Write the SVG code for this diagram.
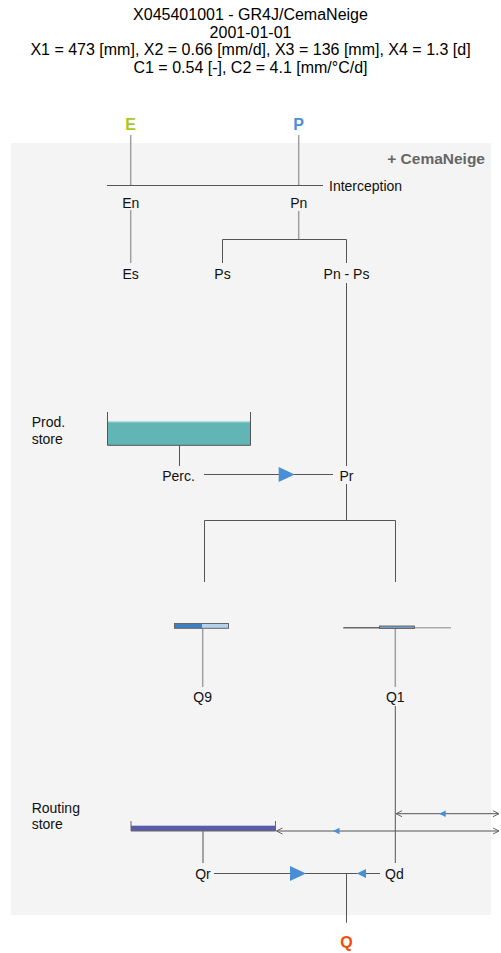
<svg xmlns="http://www.w3.org/2000/svg" width="501" height="953" viewBox="0 0 501 953">
<defs>
<style>
.t{font-family:"Liberation Sans",Arial,sans-serif;font-size:16px;fill:#000;text-anchor:middle}
.l{font-family:"Liberation Sans",Arial,sans-serif;font-size:14px;fill:#111}
.c{text-anchor:middle}
.b{font-family:"Liberation Sans",Arial,sans-serif;font-weight:bold;text-anchor:middle}
.g{stroke:#a0a0a0;stroke-width:1.5;fill:none}
.d{stroke:#555;stroke-width:1;fill:none}
.tri{fill:#4a8fd4}
</style>
<marker id="open" markerWidth="8" markerHeight="8" refX="7" refY="4" orient="auto-start-reverse" markerUnits="userSpaceOnUse">
<path d="M1,1 L7,4 L1,7" fill="none" stroke="#666" stroke-width="1"/>
</marker>
</defs>
<rect width="501" height="953" fill="#fff"/>
<g id="title">
<text class="t" x="250.5" y="20">X045401001 - GR4J/CemaNeige</text>
<text class="t" x="250.5" y="37.5">2001-01-01</text>
<text class="t" x="250.5" y="55">X1 = 473 [mm], X2 = 0.66 [mm/d], X3 = 136 [mm], X4 = 1.3 [d]</text>
<text class="t" x="250.5" y="72.5">C1 = 0.54 [-], C2 = 4.1 [mm/°C/d]</text>
</g>
<g id="panel">
<rect x="11" y="143" width="480" height="772" fill="#f4f4f4"/>
<text x="485" y="163.5" font-family="'Liberation Sans',Arial,sans-serif" font-size="15.5" font-weight="bold" fill="#666" text-anchor="end">+ CemaNeige</text>
</g>
<g id="connectors">
<line class="g" x1="130.7" y1="135" x2="130.7" y2="185"/>
<line class="g" x1="298.7" y1="135" x2="298.7" y2="185"/>
<line class="d" x1="107" y1="185.5" x2="323" y2="185.5"/>
<line class="g" x1="130.7" y1="210" x2="130.7" y2="263"/>
<line class="g" x1="298.7" y1="211" x2="298.7" y2="239"/>
<path class="d" d="M222.5,263 V239.5 H346.5 V263"/>
<line class="d" x1="346.5" y1="283" x2="346.5" y2="466"/>
<line class="d" x1="179.5" y1="445" x2="179.5" y2="466"/>
<line class="d" x1="204" y1="474.5" x2="333" y2="474.5"/>
<polygon class="tri" points="278.7,467 294.7,474.5 278.7,482"/>
<line class="d" x1="346.5" y1="484" x2="346.5" y2="520.5"/>
<path class="d" d="M204.5,582 V520.5 H395.5 V582"/>
<line class="g" x1="202.7" y1="628" x2="202.7" y2="687"/>
<line class="g" x1="395.3" y1="628" x2="395.3" y2="687"/>
<line class="d" x1="395.3" y1="706" x2="395.3" y2="863"/>
<line class="d" x1="396" y1="813.7" x2="499" y2="813.7" marker-start="url(#open)" marker-end="url(#open)"/>
<polygon class="tri" points="439,813.7 445.7,810.5 445.7,817"/>
<line class="d" x1="276.5" y1="831" x2="499" y2="831" marker-start="url(#open)" marker-end="url(#open)"/>
<polygon class="tri" points="333,831 339.5,827.7 339.5,834.3"/>
<line class="d" x1="203" y1="831" x2="203" y2="863"/>
<line class="d" x1="214" y1="873.5" x2="380" y2="873.5"/>
<polygon class="tri" points="290,866 306,873.5 290,881"/>
<polygon class="tri" points="356.7,873.5 366,869 366,878"/>
<line class="d" x1="346.5" y1="873.5" x2="346.5" y2="922.7"/>
</g>
<g id="E"><text class="b" x="130.7" y="129.5" font-size="16" fill="#a8c81e">E</text></g>
<g id="P"><text class="b" x="298.7" y="129.5" font-size="16" fill="#4a8fd4">P</text></g>
<g id="interception"><text class="l" x="329" y="190.5">Interception</text></g>
<g id="En"><text class="l c" x="130.7" y="208">En</text></g>
<g id="Pn"><text class="l c" x="298.7" y="208">Pn</text></g>
<g id="Es"><text class="l c" x="130.7" y="278.5">Es</text></g>
<g id="Ps"><text class="l c" x="222.5" y="278.5">Ps</text></g>
<g id="PnPs"><text class="l c" x="346.5" y="278.5">Pn - Ps</text></g>
<g id="prodstore">
<text class="l" x="31.7" y="427">Prod.</text>
<text class="l" x="31.7" y="443.5">store</text>
<rect x="107.5" y="421.7" width="143" height="23.6" fill="#62b5b5"/>
<line x1="107.5" y1="422.2" x2="250.5" y2="422.2" stroke="#8ccccc" stroke-width="1"/>
<path d="M107.5,412 V445.3 H250.5 V412" fill="none" stroke="#555" stroke-width="1"/>
</g>
<g id="Perc"><text class="l c" x="178.5" y="481">Perc.</text></g>
<g id="Pr"><text class="l c" x="346.5" y="481">Pr</text></g>
<g id="Q9store">
<rect x="174.5" y="623.5" width="27.5" height="4.8" fill="#3d7fc4"/>
<rect x="202" y="623.5" width="26.5" height="4.8" fill="#b4d2ee"/>
<rect x="174.5" y="623.5" width="54" height="4.8" fill="none" stroke="#666" stroke-width="1"/>
</g>
<g id="Q1store">
<line x1="343.3" y1="627.8" x2="380" y2="627.8" stroke="#666" stroke-width="1.5"/>
<line x1="414" y1="627.8" x2="451" y2="627.8" stroke="#888" stroke-width="1"/>
<rect x="379.5" y="626" width="35" height="2.6" fill="#7a9cc0" stroke="#555" stroke-width="0.8"/>
</g>
<g id="Q9"><text class="l c" x="202.7" y="702">Q9</text></g>
<g id="Q1"><text class="l c" x="395.3" y="702">Q1</text></g>
<g id="routingstore">
<text class="l" x="31.7" y="812.5">Routing</text>
<text class="l" x="31.7" y="829">store</text>
<rect x="131" y="825.7" width="144.5" height="5.3" fill="#5a5aaa"/>
<path d="M131,821 V831 H275.5 V821" fill="none" stroke="#666" stroke-width="1"/>
</g>
<g id="Qr"><text class="l c" x="203" y="878.5">Qr</text></g>
<g id="Qd"><text class="l" x="385" y="878.5">Qd</text></g>
<g id="Q"><text class="b" x="346.5" y="948" font-size="16" fill="#f04e0a">Q</text></g>
</svg>
